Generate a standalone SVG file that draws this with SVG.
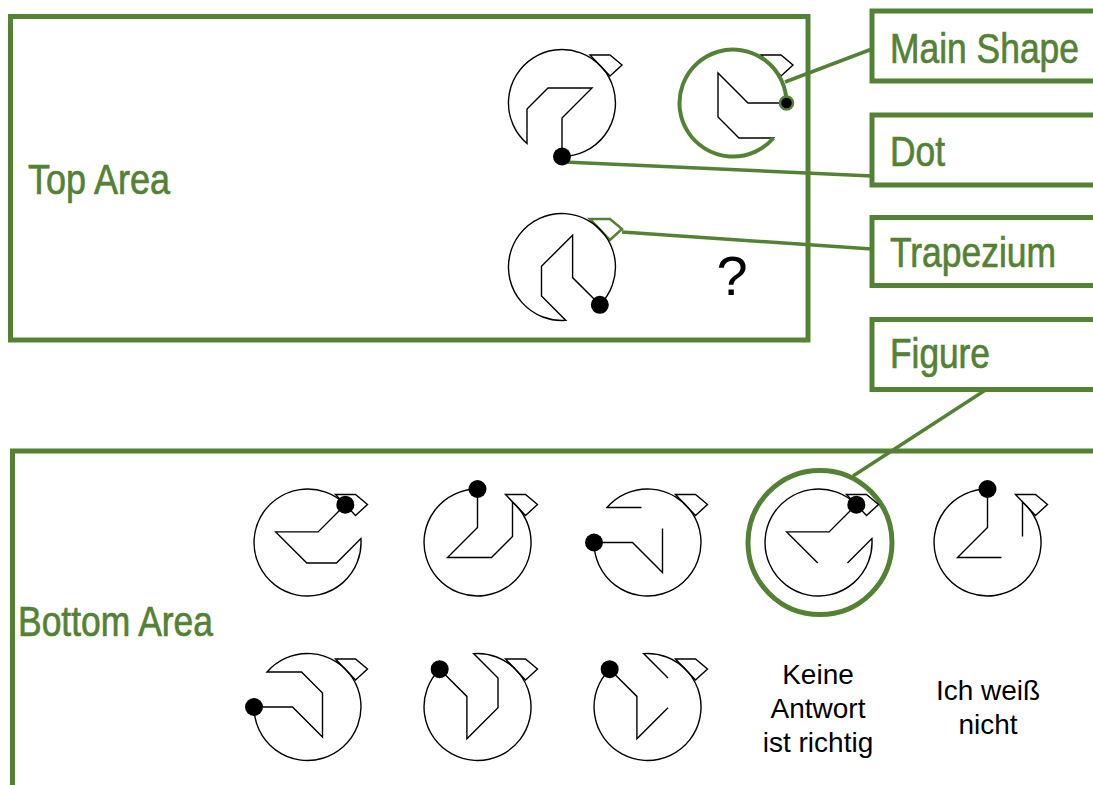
<svg xmlns="http://www.w3.org/2000/svg" xmlns:xlink="http://www.w3.org/1999/xlink" width="1093" height="785" viewBox="0 0 1093 785">
  <style>
    .area { fill: none; stroke: #548235; stroke-width: 5; }
    .box { fill: #ffffff; stroke: #548235; stroke-width: 5; }
    .conn { fill: none; stroke: #548235; stroke-width: 3.5; }
    .lbl { font-family: "Liberation Sans Narrow", "Liberation Sans", Arial, sans-serif; font-size: 42px; fill: #548235; stroke: #548235; stroke-width: 0.7; }
    .txt { font-family: "Liberation Sans", Arial, sans-serif; font-size: 28px; fill: #000000; text-anchor: middle; }
    .ln { fill: none; stroke: #000000; stroke-width: 1.4; stroke-linejoin: miter; }
    .trap { fill: none; stroke: #000000; stroke-width: 1.4; }
    .dot { fill: #000000; }
  </style>
  <defs>
    <!-- outline: open circle plus inner zigzag, dot at the bottom in base orientation -->
    <path id="full" d="M0 53.5 A53.5 53.5 0 1 0 -35 40.5 L-35 6 L-14 -15 L30 -15 L0 15 Z"/>
    <!-- same outline with one inner segment left out -->
    <path id="cut" d="M0 53.5 A53.5 53.5 0 1 0 -35 40.5 L-35 6 M-14 -15 L30 -15 L0 15 L0 53.5"/>
    <path id="rim" d="M0 53.5 A53.5 53.5 0 1 0 -35 40.5"/>
    <circle id="pt" cx="0" cy="53.5" r="9"/>
    <polygon id="tp" points="28,-48 48,-48 60,-38 48,-27"/>
  </defs>

  <!-- areas -->
  <g id="top-area">
    <rect class="area" x="10.5" y="16.5" width="797.5" height="323.5"/>
    <text class="lbl" x="28" y="194" textLength="142" lengthAdjust="spacingAndGlyphs">Top Area</text>
  </g>
  <g id="bottom-area">
    <rect class="area" x="12.5" y="451" width="1100" height="400"/>
    <text class="lbl" x="18" y="636" textLength="195" lengthAdjust="spacingAndGlyphs">Bottom Area</text>
  </g>

  <!-- connectors -->
  <g id="connectors">
    <line class="conn" x1="785" y1="82" x2="872" y2="49"/>
    <line class="conn" x1="564" y1="162" x2="872" y2="176"/>
    <line class="conn" x1="622" y1="232" x2="872" y2="249"/>
    <line class="conn" x1="987" y1="389" x2="853" y2="476"/>
  </g>

  <!-- top row figures -->
  <g id="fig-t1" transform="translate(562 103)">
    <use href="#tp" class="trap"/>
    <g transform="rotate(0)"><use href="#full" class="ln"/><use href="#pt" class="dot"/></g>
  </g>
  <g id="fig-t2" transform="translate(733 103)">
    <use href="#tp" class="trap"/>
    <g transform="rotate(-90)">
      <use href="#full" class="ln"/>
      <use href="#rim" fill="none" stroke="#548235" stroke-width="4"/>
      <circle cx="0" cy="53.5" r="6.5" fill="#000" stroke="#548235" stroke-width="2.5"/>
    </g>
  </g>
  <g id="fig-t3" transform="translate(562 267)">
    <use href="#tp" fill="none" stroke="#548235" stroke-width="2.5"/>
    <g transform="rotate(-45)"><use href="#full" class="ln"/><use href="#pt" class="dot"/></g>
  </g>
  <g id="question">
    <text x="732" y="295" font-family="Liberation Sans, Arial, sans-serif" font-size="56" text-anchor="middle" fill="#000">?</text>
  </g>

  <!-- bottom area, first row -->
  <g id="opt-1" transform="translate(307.5 542.5)">
    <use href="#tp" class="trap"/>
    <g transform="rotate(-135)"><use href="#full" class="ln"/><use href="#pt" class="dot"/></g>
  </g>
  <g id="opt-2" transform="translate(477.5 542.5)">
    <use href="#tp" class="trap"/>
    <g transform="rotate(180)"><use href="#full" class="ln"/><use href="#pt" class="dot"/></g>
  </g>
  <g id="opt-3" transform="translate(647.5 542.5)">
    <use href="#tp" class="trap"/>
    <g transform="rotate(90)"><use href="#cut" class="ln"/><use href="#pt" class="dot"/></g>
  </g>
  <g id="opt-4" transform="translate(818.5 542.5)">
    <circle cx="1.5" cy="0" r="72" fill="none" stroke="#548235" stroke-width="5"/>
    <use href="#tp" class="trap"/>
    <g transform="rotate(-135)"><use href="#cut" class="ln"/><use href="#pt" class="dot"/></g>
  </g>
  <g id="opt-5" transform="translate(987.5 542.5)">
    <use href="#tp" class="trap"/>
    <g transform="rotate(180)"><use href="#cut" class="ln"/><use href="#pt" class="dot"/></g>
  </g>

  <!-- bottom area, second row -->
  <g id="opt-6" transform="translate(307.5 707)">
    <use href="#tp" class="trap"/>
    <g transform="rotate(90)"><use href="#full" class="ln"/><use href="#pt" class="dot"/></g>
  </g>
  <g id="opt-7" transform="translate(477.5 707)">
    <use href="#tp" class="trap"/>
    <g transform="rotate(135)"><use href="#full" class="ln"/><use href="#pt" class="dot"/></g>
  </g>
  <g id="opt-8" transform="translate(647.5 707)">
    <use href="#tp" class="trap"/>
    <g transform="rotate(135)"><use href="#cut" class="ln"/><use href="#pt" class="dot"/></g>
  </g>
  <g id="opt-none">
    <text class="txt" x="818" y="684">Keine</text>
    <text class="txt" x="818" y="718">Antwort</text>
    <text class="txt" x="818" y="752">ist richtig</text>
  </g>
  <g id="opt-unknown">
    <text class="txt" x="988" y="700">Ich weiß</text>
    <text class="txt" x="988" y="734">nicht</text>
  </g>

  <!-- label boxes -->
  <g id="label-main-shape">
    <rect class="box" x="872" y="11" width="240" height="70"/>
    <text class="lbl" x="890" y="63" textLength="189" lengthAdjust="spacingAndGlyphs">Main Shape</text>
  </g>
  <g id="label-dot">
    <rect class="box" x="872" y="115" width="240" height="70"/>
    <text class="lbl" x="890" y="166" textLength="55" lengthAdjust="spacingAndGlyphs">Dot</text>
  </g>
  <g id="label-trapezium">
    <rect class="box" x="872" y="217.5" width="240" height="68"/>
    <text class="lbl" x="890" y="267" textLength="166" lengthAdjust="spacingAndGlyphs">Trapezium</text>
  </g>
  <g id="label-figure">
    <rect class="box" x="872" y="319.5" width="240" height="70"/>
    <text class="lbl" x="890" y="368" textLength="100" lengthAdjust="spacingAndGlyphs">Figure</text>
  </g>
</svg>
